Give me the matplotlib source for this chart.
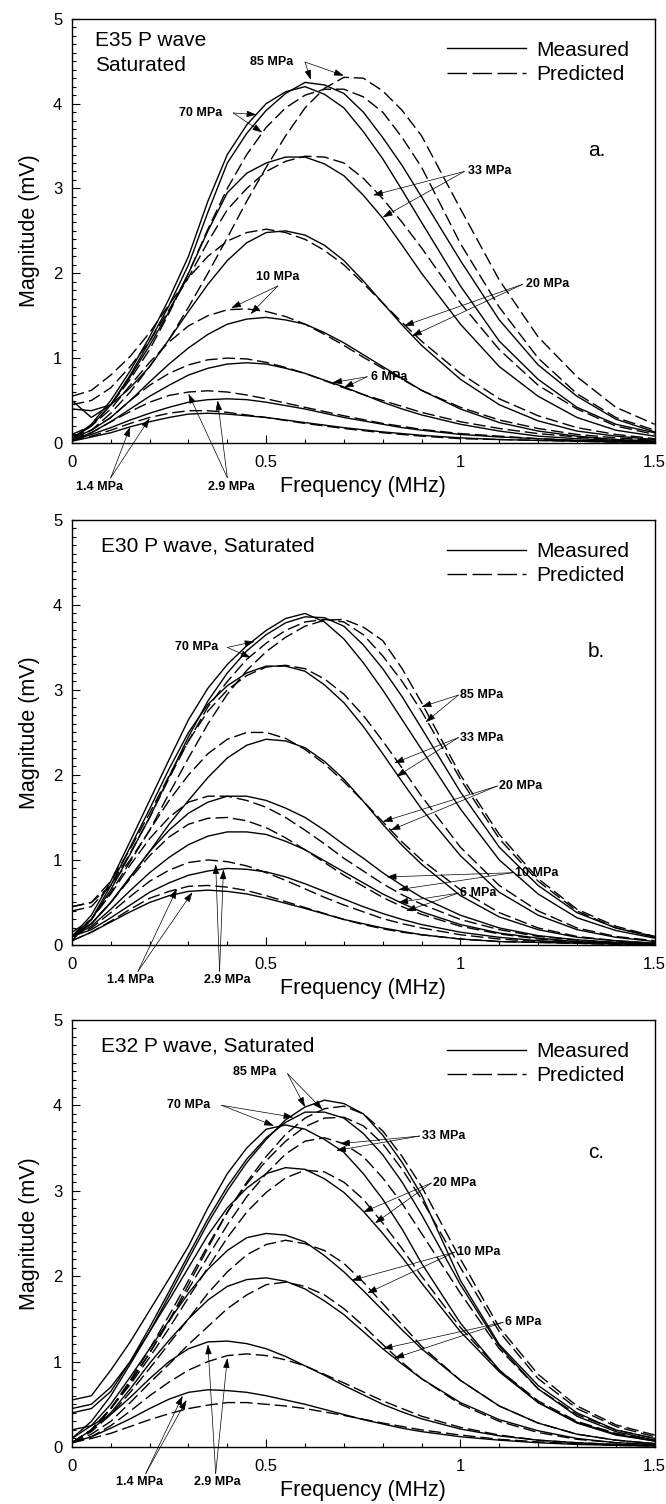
import matplotlib
matplotlib.use("Agg")
import matplotlib.pyplot as plt
from matplotlib.lines import Line2D
from matplotlib.ticker import MultipleLocator, FixedLocator, FixedFormatter

plt.rcParams['font.family'] = ['Liberation Sans', 'DejaVu Sans']

freq = [0, 0.05, 0.1, 0.15, 0.2, 0.25, 0.3, 0.35, 0.4, 0.45, 0.5, 0.55, 0.6,
        0.65, 0.7, 0.75, 0.8, 0.85, 0.9, 1.0, 1.1, 1.2, 1.3, 1.4, 1.5]
pressures = ['1.4', '2.9', '6', '10', '20', '33', '70', '85']

# E35 measured / predicted magnitude (mV)
e35_meas = {
    '1.4': [0.02, 0.07, 0.12, 0.19, 0.25, 0.30, 0.34, 0.35, 0.34, 0.32, 0.30, 0.27, 0.24, 0.21, 0.18, 0.155, 0.13, 0.11, 0.09, 0.06, 0.04, 0.03, 0.02, 0.01, 0.01],
    '2.9': [0.03, 0.10, 0.18, 0.27, 0.35, 0.42, 0.48, 0.51, 0.52, 0.51, 0.48, 0.44, 0.40, 0.35, 0.30, 0.26, 0.22, 0.18, 0.15, 0.10, 0.07, 0.05, 0.03, 0.02, 0.01],
    '6':   [0.03, 0.12, 0.25, 0.40, 0.55, 0.68, 0.80, 0.88, 0.93, 0.945, 0.93, 0.88, 0.82, 0.74, 0.66, 0.57, 0.48, 0.40, 0.33, 0.22, 0.14, 0.08, 0.05, 0.03, 0.02],
    '10':  [0.05, 0.15, 0.30, 0.50, 0.72, 0.93, 1.12, 1.28, 1.40, 1.46, 1.48, 1.45, 1.40, 1.30, 1.18, 1.04, 0.90, 0.76, 0.62, 0.40, 0.24, 0.14, 0.08, 0.04, 0.02],
    '20':  [0.40, 0.38, 0.45, 0.65, 0.90, 1.22, 1.55, 1.87, 2.15, 2.36, 2.48, 2.50, 2.45, 2.33, 2.15, 1.91, 1.65, 1.39, 1.15, 0.75, 0.45, 0.26, 0.14, 0.08, 0.04],
    '33':  [0.50, 0.30, 0.45, 0.78, 1.15, 1.55, 2.00, 2.50, 2.95, 3.18, 3.30, 3.37, 3.37, 3.29, 3.15, 2.92, 2.65, 2.33, 2.00, 1.40, 0.90, 0.55, 0.30, 0.15, 0.08],
    '70':  [0.05, 0.22, 0.50, 0.85, 1.25, 1.70, 2.20, 2.85, 3.40, 3.75, 4.00, 4.14, 4.20, 4.11, 3.95, 3.67, 3.35, 2.98, 2.60, 1.85, 1.20, 0.75, 0.42, 0.22, 0.12],
    '85':  [0.05, 0.20, 0.45, 0.80, 1.20, 1.62, 2.10, 2.72, 3.30, 3.65, 3.92, 4.12, 4.25, 4.22, 4.12, 3.90, 3.60, 3.27, 2.90, 2.15, 1.45, 0.92, 0.55, 0.28, 0.13],
}
e35_pred = {
    '1.4': [0.03, 0.08, 0.15, 0.23, 0.30, 0.35, 0.38, 0.38, 0.36, 0.33, 0.30, 0.265, 0.23, 0.20, 0.17, 0.145, 0.12, 0.10, 0.08, 0.05, 0.04, 0.03, 0.02, 0.01, 0.01],
    '2.9': [0.05, 0.12, 0.25, 0.37, 0.48, 0.56, 0.60, 0.615, 0.60, 0.565, 0.52, 0.47, 0.42, 0.37, 0.32, 0.275, 0.23, 0.195, 0.16, 0.11, 0.08, 0.05, 0.03, 0.02, 0.01],
    '6':   [0.05, 0.15, 0.30, 0.50, 0.68, 0.82, 0.92, 0.98, 1.00, 0.99, 0.95, 0.89, 0.82, 0.735, 0.65, 0.57, 0.50, 0.43, 0.36, 0.25, 0.17, 0.11, 0.07, 0.04, 0.02],
    '10':  [0.05, 0.20, 0.40, 0.68, 0.95, 1.19, 1.38, 1.50, 1.57, 1.58, 1.55, 1.49, 1.40, 1.28, 1.15, 1.01, 0.88, 0.75, 0.62, 0.42, 0.27, 0.17, 0.10, 0.06, 0.03],
    '20':  [0.55, 0.62, 0.80, 1.02, 1.30, 1.63, 1.95, 2.20, 2.38, 2.48, 2.52, 2.48, 2.40, 2.27, 2.10, 1.88, 1.65, 1.42, 1.20, 0.82, 0.52, 0.32, 0.18, 0.10, 0.05],
    '33':  [0.45, 0.50, 0.65, 0.90, 1.20, 1.57, 1.95, 2.37, 2.75, 3.00, 3.20, 3.32, 3.38, 3.37, 3.30, 3.12, 2.88, 2.60, 2.30, 1.65, 1.10, 0.68, 0.40, 0.20, 0.10],
    '70':  [0.10, 0.20, 0.45, 0.75, 1.10, 1.53, 2.00, 2.52, 3.00, 3.40, 3.72, 3.95, 4.10, 4.17, 4.17, 4.08, 3.90, 3.60, 3.25, 2.35, 1.60, 1.00, 0.58, 0.30, 0.15],
    '85':  [0.08, 0.15, 0.35, 0.60, 0.90, 1.22, 1.60, 2.00, 2.42, 2.85, 3.25, 3.62, 3.95, 4.18, 4.31, 4.30, 4.15, 3.92, 3.62, 2.76, 1.92, 1.25, 0.78, 0.42, 0.22],
}

# E30
e30_meas = {
    '1.4': [0.05, 0.15, 0.27, 0.39, 0.50, 0.58, 0.63, 0.645, 0.63, 0.60, 0.55, 0.49, 0.43, 0.365, 0.30, 0.25, 0.20, 0.16, 0.12, 0.07, 0.04, 0.03, 0.02, 0.01, 0.01],
    '2.9': [0.10, 0.18, 0.32, 0.47, 0.62, 0.73, 0.82, 0.87, 0.90, 0.89, 0.86, 0.80, 0.72, 0.63, 0.54, 0.45, 0.37, 0.30, 0.24, 0.15, 0.09, 0.05, 0.03, 0.02, 0.01],
    '6':   [0.10, 0.22, 0.42, 0.64, 0.85, 1.03, 1.18, 1.28, 1.33, 1.33, 1.30, 1.22, 1.12, 0.99, 0.86, 0.73, 0.60, 0.49, 0.39, 0.24, 0.14, 0.08, 0.04, 0.02, 0.01],
    '10':  [0.10, 0.25, 0.50, 0.80, 1.10, 1.35, 1.55, 1.68, 1.75, 1.75, 1.70, 1.61, 1.50, 1.35, 1.18, 1.02, 0.85, 0.70, 0.56, 0.35, 0.20, 0.11, 0.06, 0.03, 0.02],
    '20':  [0.10, 0.25, 0.50, 0.80, 1.10, 1.42, 1.70, 1.97, 2.20, 2.35, 2.42, 2.40, 2.32, 2.16, 1.95, 1.69, 1.42, 1.17, 0.95, 0.58, 0.33, 0.18, 0.09, 0.05, 0.02],
    '33':  [0.05, 0.30, 0.70, 1.15, 1.60, 2.07, 2.50, 2.83, 3.05, 3.20, 3.28, 3.28, 3.22, 3.06, 2.85, 2.57, 2.25, 1.92, 1.60, 1.05, 0.62, 0.35, 0.18, 0.09, 0.04],
    '70':  [0.10, 0.35, 0.75, 1.22, 1.70, 2.18, 2.65, 3.02, 3.30, 3.52, 3.70, 3.84, 3.90, 3.80, 3.60, 3.32, 3.00, 2.65, 2.30, 1.60, 1.00, 0.60, 0.32, 0.17, 0.08],
    '85':  [0.10, 0.30, 0.65, 1.07, 1.50, 1.98, 2.45, 2.87, 3.20, 3.46, 3.65, 3.79, 3.86, 3.85, 3.75, 3.53, 3.25, 2.92, 2.55, 1.80, 1.15, 0.70, 0.38, 0.20, 0.09],
}
e30_pred = {
    '1.4': [0.05, 0.15, 0.28, 0.42, 0.55, 0.63, 0.69, 0.70, 0.68, 0.64, 0.58, 0.51, 0.44, 0.37, 0.30, 0.24, 0.19, 0.15, 0.12, 0.07, 0.04, 0.03, 0.02, 0.01, 0.01],
    '2.9': [0.10, 0.20, 0.38, 0.57, 0.75, 0.88, 0.97, 1.00, 0.98, 0.93, 0.85, 0.76, 0.66, 0.56, 0.47, 0.39, 0.31, 0.25, 0.20, 0.12, 0.07, 0.04, 0.02, 0.01, 0.01],
    '6':   [0.10, 0.25, 0.50, 0.78, 1.05, 1.27, 1.42, 1.49, 1.50, 1.46, 1.38, 1.26, 1.12, 0.97, 0.82, 0.69, 0.56, 0.45, 0.36, 0.22, 0.13, 0.07, 0.04, 0.02, 0.01],
    '10':  [0.15, 0.30, 0.60, 0.94, 1.25, 1.50, 1.68, 1.75, 1.75, 1.70, 1.62, 1.50, 1.35, 1.19, 1.02, 0.87, 0.72, 0.59, 0.48, 0.30, 0.18, 0.10, 0.06, 0.03, 0.02],
    '20':  [0.10, 0.30, 0.62, 0.98, 1.35, 1.70, 2.00, 2.25, 2.42, 2.50, 2.50, 2.43, 2.30, 2.13, 1.92, 1.69, 1.45, 1.21, 1.00, 0.65, 0.38, 0.20, 0.10, 0.05, 0.02],
    '33':  [0.45, 0.50, 0.75, 1.13, 1.55, 1.99, 2.40, 2.75, 3.00, 3.17, 3.27, 3.29, 3.25, 3.13, 2.95, 2.70, 2.40, 2.08, 1.75, 1.15, 0.70, 0.40, 0.20, 0.10, 0.05],
    '70':  [0.40, 0.45, 0.70, 1.08, 1.50, 1.96, 2.40, 2.80, 3.10, 3.36, 3.55, 3.70, 3.80, 3.83, 3.80, 3.65, 3.40, 3.10, 2.75, 1.95, 1.25, 0.75, 0.40, 0.20, 0.10],
    '85':  [0.45, 0.50, 0.70, 1.00, 1.35, 1.78, 2.20, 2.60, 2.95, 3.23, 3.45, 3.62, 3.75, 3.82, 3.83, 3.74, 3.58, 3.25, 2.85, 2.00, 1.30, 0.78, 0.42, 0.22, 0.10],
}

# E32
e32_meas = {
    '1.4': [0.05, 0.12, 0.22, 0.33, 0.45, 0.56, 0.64, 0.67, 0.66, 0.64, 0.60, 0.55, 0.50, 0.44, 0.38, 0.32, 0.27, 0.22, 0.18, 0.12, 0.08, 0.05, 0.03, 0.02, 0.01],
    '2.9': [0.20, 0.25, 0.38, 0.58, 0.80, 1.00, 1.15, 1.23, 1.24, 1.21, 1.15, 1.06, 0.95, 0.84, 0.72, 0.61, 0.50, 0.41, 0.33, 0.21, 0.13, 0.08, 0.05, 0.03, 0.02],
    '6':   [0.05, 0.20, 0.40, 0.68, 0.98, 1.25, 1.50, 1.72, 1.88, 1.96, 1.98, 1.94, 1.85, 1.71, 1.55, 1.35, 1.15, 0.97, 0.80, 0.52, 0.32, 0.19, 0.10, 0.05, 0.03],
    '10':  [0.10, 0.25, 0.50, 0.82, 1.15, 1.48, 1.80, 2.08, 2.30, 2.45, 2.50, 2.48, 2.40, 2.24, 2.05, 1.83, 1.60, 1.37, 1.15, 0.78, 0.48, 0.28, 0.15, 0.08, 0.04],
    '20':  [0.45, 0.50, 0.70, 1.00, 1.35, 1.72, 2.10, 2.48, 2.80, 3.03, 3.20, 3.27, 3.25, 3.14, 2.98, 2.76, 2.50, 2.22, 1.92, 1.35, 0.88, 0.52, 0.29, 0.15, 0.07],
    '33':  [0.55, 0.60, 0.90, 1.23, 1.60, 1.97, 2.35, 2.80, 3.20, 3.50, 3.72, 3.77, 3.72, 3.60, 3.45, 3.20, 2.90, 2.55, 2.15, 1.45, 0.90, 0.52, 0.28, 0.14, 0.07],
    '70':  [0.40, 0.45, 0.65, 1.00, 1.40, 1.82, 2.25, 2.67, 3.05, 3.37, 3.62, 3.80, 3.92, 3.92, 3.85, 3.67, 3.42, 3.10, 2.72, 1.90, 1.18, 0.68, 0.36, 0.18, 0.08],
    '85':  [0.10, 0.30, 0.60, 0.97, 1.35, 1.77, 2.20, 2.62, 3.00, 3.33, 3.60, 3.83, 3.98, 4.06, 4.02, 3.90, 3.65, 3.33, 2.95, 1.95, 1.20, 0.72, 0.40, 0.20, 0.10],
}
e32_pred = {
    '1.4': [0.05, 0.10, 0.16, 0.24, 0.32, 0.39, 0.45, 0.49, 0.52, 0.52, 0.50, 0.48, 0.45, 0.41, 0.37, 0.325, 0.28, 0.24, 0.20, 0.14, 0.09, 0.06, 0.04, 0.02, 0.01],
    '2.9': [0.05, 0.12, 0.25, 0.42, 0.60, 0.76, 0.90, 1.00, 1.07, 1.09, 1.07, 1.02, 0.95, 0.85, 0.75, 0.645, 0.54, 0.45, 0.36, 0.23, 0.14, 0.08, 0.05, 0.03, 0.02],
    '6':   [0.05, 0.15, 0.30, 0.52, 0.75, 0.97, 1.20, 1.41, 1.62, 1.78, 1.90, 1.93, 1.88, 1.78, 1.62, 1.42, 1.20, 0.99, 0.80, 0.50, 0.30, 0.17, 0.09, 0.05, 0.03],
    '10':  [0.05, 0.18, 0.38, 0.64, 0.92, 1.21, 1.50, 1.80, 2.05, 2.25, 2.37, 2.42, 2.38, 2.30, 2.15, 1.93, 1.68, 1.43, 1.18, 0.78, 0.48, 0.28, 0.15, 0.08, 0.04],
    '20':  [0.05, 0.20, 0.45, 0.73, 1.05, 1.39, 1.75, 2.10, 2.45, 2.75, 2.98, 3.15, 3.24, 3.22, 3.10, 2.90, 2.62, 2.32, 2.00, 1.40, 0.90, 0.54, 0.30, 0.16, 0.08],
    '33':  [0.05, 0.20, 0.45, 0.76, 1.10, 1.47, 1.85, 2.23, 2.60, 2.93, 3.20, 3.43, 3.58, 3.62, 3.55, 3.40, 3.15, 2.85, 2.50, 1.80, 1.15, 0.68, 0.38, 0.20, 0.10],
    '70':  [0.05, 0.20, 0.45, 0.78, 1.15, 1.54, 1.95, 2.36, 2.75, 3.08, 3.35, 3.58, 3.75, 3.85, 3.86, 3.76, 3.55, 3.25, 2.90, 2.10, 1.35, 0.80, 0.45, 0.24, 0.12],
    '85':  [0.05, 0.20, 0.45, 0.75, 1.10, 1.48, 1.90, 2.33, 2.75, 3.10, 3.40, 3.66, 3.85, 3.96, 3.99, 3.90, 3.70, 3.40, 3.05, 2.20, 1.40, 0.85, 0.48, 0.26, 0.14],
}

# pressure labels: text, text position, alignment, arrow start, arrow tips
e35_notes = [
    ('85 MPa', (0.515, 4.49), 'center', (0.60, 4.49), [(0.615, 4.28), (0.70, 4.33)]),
    ('70 MPa', (0.33, 3.89), 'center', (0.415, 3.89), [(0.475, 3.87), (0.49, 3.66)]),
    ('33 MPa', (1.02, 3.20), 'left', (1.01, 3.20), [(0.775, 2.92), (0.80, 2.66)]),
    ('20 MPa', (1.17, 1.87), 'left', (1.16, 1.87), [(0.855, 1.38), (0.875, 1.26)]),
    ('10 MPa', (0.53, 1.96), 'center', (0.53, 1.85), [(0.41, 1.59), (0.46, 1.52)]),
    ('6 MPa', (0.77, 0.78), 'left', (0.76, 0.78), [(0.67, 0.71), (0.70, 0.65)]),
    ('1.4 MPa', (0.07, -0.52), 'center', (0.10, -0.41), [(0.15, 0.19), (0.20, 0.29)]),
    ('2.9 MPa', (0.41, -0.52), 'center', (0.40, -0.41), [(0.30, 0.58), (0.375, 0.50)]),
]
e30_notes = [
    ('70 MPa', (0.32, 3.50), 'center', (0.40, 3.50), [(0.47, 3.57), (0.46, 3.38)]),
    ('85 MPa', (1.00, 2.94), 'left', (0.995, 2.94), [(0.90, 2.80), (0.91, 2.62)]),
    ('33 MPa', (1.00, 2.44), 'left', (0.995, 2.44), [(0.83, 2.14), (0.835, 1.98)]),
    ('20 MPa', (1.10, 1.87), 'left', (1.095, 1.87), [(0.80, 1.45), (0.82, 1.35)]),
    ('10 MPa', (1.14, 0.85), 'left', (1.135, 0.85), [(0.81, 0.80), (0.84, 0.65)]),
    ('6 MPa', (1.00, 0.61), 'left', (0.995, 0.61), [(0.84, 0.50), (0.86, 0.40)]),
    ('1.4 MPa', (0.15, -0.41), 'center', (0.17, -0.31), [(0.27, 0.66), (0.31, 0.62)]),
    ('2.9 MPa', (0.40, -0.41), 'center', (0.38, -0.31), [(0.37, 0.95), (0.39, 0.89)]),
]
e32_notes = [
    ('85 MPa', (0.47, 4.39), 'center', (0.555, 4.37), [(0.60, 3.98), (0.645, 3.95)]),
    ('70 MPa', (0.30, 4.00), 'center', (0.385, 4.00), [(0.57, 3.86), (0.52, 3.76)]),
    ('33 MPa', (0.90, 3.64), 'left', (0.895, 3.64), [(0.69, 3.55), (0.68, 3.47)]),
    ('20 MPa', (0.93, 3.09), 'left', (0.925, 3.09), [(0.75, 2.75), (0.78, 2.62)]),
    ('10 MPa', (0.99, 2.28), 'left', (0.985, 2.28), [(0.72, 1.95), (0.76, 1.80)]),
    ('6 MPa', (1.115, 1.46), 'left', (1.11, 1.46), [(0.80, 1.15), (0.83, 1.04)]),
    ('1.4 MPa', (0.175, -0.41), 'center', (0.19, -0.31), [(0.285, 0.60), (0.295, 0.55)]),
    ('2.9 MPa', (0.375, -0.41), 'center', (0.37, -0.31), [(0.35, 1.20), (0.40, 1.04)]),
]

panels = [
    (e35_meas, e35_pred, 'E35 P wave\nSaturated', 'a.', e35_notes, [0.108, 0.7055, 0.875, 0.282]),
    (e30_meas, e30_pred, 'E30 P wave, Saturated', 'b.', e30_notes, [0.108, 0.3717, 0.875, 0.2826]),
    (e32_meas, e32_pred, 'E32 P wave, Saturated', 'c.', e32_notes, [0.108, 0.0379, 0.875, 0.284]),
]

DASH = (9, 3.5)

fig = plt.figure(figsize=(6.66, 15.04), dpi=100)

for meas, pred, title, letter, notes, rect in panels:
    ax = fig.add_axes(rect)
    for p in pressures:
        ax.plot(freq, meas[p], color='k', lw=1.0)
        ax.plot(freq, pred[p], color='k', lw=1.0, dashes=DASH)

    ax.set_xlim(0, 1.5)
    ax.set_ylim(0, 5)
    ax.xaxis.set_major_locator(FixedLocator([0, 0.5, 1, 1.5]))
    ax.xaxis.set_major_formatter(FixedFormatter(['0', '0.5', '1', '1.5']))
    ax.xaxis.set_minor_locator(MultipleLocator(0.1))
    ax.yaxis.set_major_locator(MultipleLocator(1))
    ax.yaxis.set_minor_locator(MultipleLocator(0.1))
    ax.tick_params(which='both', direction='in', top=False, right=False, width=0.8)
    ax.tick_params(which='major', length=6, labelsize=12)
    ax.tick_params(which='minor', length=3)
    ax.tick_params(axis='x', which='major', pad=9)
    ax.tick_params(axis='y', which='major', pad=7)
    for s in ax.spines.values():
        s.set_linewidth(1.0)
    ax.set_xlabel('Frequency (MHz)', fontsize=15.5, labelpad=4)
    ax.set_ylabel('Magnitude (mV)', fontsize=15.5, labelpad=9)

    if '\n' in title:
        ax.text(0.06, 4.86, title, fontsize=15, ha='left', va='top', linespacing=1.45)
    else:
        ax.text(0.075, 4.80, title, fontsize=15, ha='left', va='top')
    ax.text(1.35, 3.45, letter, fontsize=15, ha='center', va='center')

    handles = [Line2D([], [], color='k', lw=1.0),
               Line2D([], [], color='k', lw=1.0, dashes=(14, 4))]
    ax.legend(handles, ['Measured', 'Predicted'], loc='upper right',
              bbox_to_anchor=(0.97, 0.968), frameon=False, fontsize=15,
              handlelength=3.8, handletextpad=0.45, labelspacing=0.25,
              borderaxespad=0.0)

    for label, txy, ha, start, tips in notes:
        ax.text(txy[0], txy[1], label, fontsize=9, fontweight='bold',
                ha=ha, va='center', clip_on=False)
        for tip in tips:
            ax.annotate('', xy=tip, xytext=start, annotation_clip=False,
                        arrowprops=dict(arrowstyle='-|>,head_length=0.6,head_width=0.2',
                                        lw=0.5, color='k', shrinkA=0, shrinkB=0))

fig.savefig('out.png', dpi=100)
